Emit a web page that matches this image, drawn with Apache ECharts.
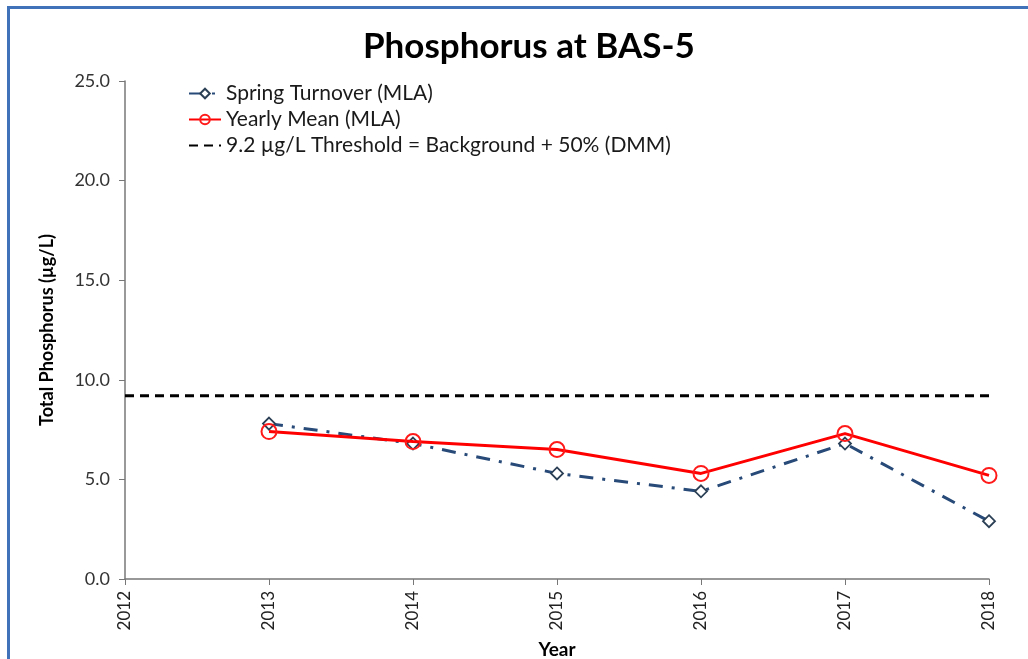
<!DOCTYPE html>
<html>
<head>
	<meta charset="utf-8">
	<title>Phosphorus at BAS-5</title>
	<script src="https://cdn.jsdelivr.net/npm/echarts@6/dist/echarts.min.js"></script>
	<style>
		body { margin: 0; background: #fff; }
		#frame { position: absolute; left: 7px; top: 6px; width: 1030px; height: 660px; border-left: 3px solid #3f72b8; border-top: 3px solid #3f72b8; }
		#main { position: absolute; left: 0; top: 0; width: 1028px; height: 659px; }
	</style>
</head>
<body>
	<div id="frame"></div>
	<div id="main"></div>
	<script type="text/javascript">
		var years = [2013, 2014, 2015, 2016, 2017, 2018];
		var springTurnover = [7.8, 6.8, 5.3, 4.4, 6.8, 2.9];
		var yearlyMean = [7.4, 6.9, 6.5, 5.3, 7.3, 5.2];
		var thresholdYears = [2012, 2018];
		var thresholdValue = 9.2;

		function pairs(xs, ys) {
			return xs.map(function (x, i) { return [x, ys[i]]; });
		}

		var font = 'Lato, "Open Sans", sans-serif';
		var myChart = echarts.init(document.getElementById('main'));
		var option = {
			backgroundColor: 'transparent',
			animation: false,
			title: {
				text: 'Phosphorus at BAS-5',
				left: 358,
				top: 24,
				textStyle: { fontFamily: font, fontSize: 35, fontWeight: 'bold', color: '#000' }
			},
			legend: {
				orient: 'vertical',
				left: 183,
				top: 78,
				itemWidth: 32,
				itemHeight: 12,
				itemGap: 5,
				textStyle: { fontFamily: font, fontSize: 21, color: '#1a1a1a' },
				data: [
					'Spring Turnover (MLA)',
					'Yearly Mean (MLA)',
					{ name: '9.2 µg/L Threshold = Background + 50% (DMM)', itemStyle: { opacity: 0 } }
				]
			},
			grid: { left: 125, right: 39, top: 81, bottom: 80, outerBoundsMode: 'none' },
			xAxis: {
				type: 'value',
				min: 2012,
				max: 2018,
				interval: 1,
				name: 'Year',
				nameLocation: 'center',
				nameGap: 61,
				nameTextStyle: { fontFamily: font, fontSize: 19, fontWeight: 'bold', color: '#000' },
				axisLine: { lineStyle: { color: '#777', width: 1.5 } },
				axisTick: { show: true, length: 6, lineStyle: { color: '#777' } },
				axisLabel: { rotate: 90, fontFamily: font, fontSize: 17, color: '#222', margin: 12, formatter: function (v) { return String(v); } },
				splitLine: { show: false }
			},
			yAxis: {
				type: 'value',
				min: 0,
				max: 25,
				interval: 5,
				name: 'Total Phosphorus (µg/L)',
				nameLocation: 'center',
				nameGap: 69,
				nameTextStyle: { fontFamily: font, fontSize: 18, fontWeight: 'bold', color: '#000' },
				axisLine: { show: true, lineStyle: { color: '#777', width: 1.5 } },
				axisTick: { show: true, length: 6, lineStyle: { color: '#777' } },
				axisLabel: { fontFamily: font, fontSize: 18, color: '#333', margin: 15, formatter: function (v) { return v.toFixed(1); } },
				splitLine: { show: false }
			},
			series: [
				{
					name: 'Spring Turnover (MLA)',
					type: 'line',
					data: pairs(years, springTurnover),
					symbol: 'diamond',
					symbolSize: 12,
					itemStyle: { color: '#fff', borderColor: '#2b3f55', borderWidth: 1.8 },
					lineStyle: { color: '#274a78', width: 3, type: [14, 9, 3, 9] },
					z: 2
				},
				{
					name: 'Yearly Mean (MLA)',
					type: 'line',
					data: pairs(years, yearlyMean),
					symbol: 'circle',
					symbolSize: 15,
					itemStyle: { color: 'transparent', borderColor: '#ff1a1a', borderWidth: 2 },
					lineStyle: { color: '#ff0000', width: 3 },
					z: 3
				},
				{
					name: '9.2 µg/L Threshold = Background + 50% (DMM)',
					type: 'line',
					data: thresholdYears.map(function (x) { return [x, thresholdValue]; }),
					symbol: 'none',
					itemStyle: { color: '#000' },
					lineStyle: { color: '#000', width: 3, type: [9, 6] },
					z: 1
				}
			]
		};
		myChart.setOption(option);
	</script>
</body>
</html>
